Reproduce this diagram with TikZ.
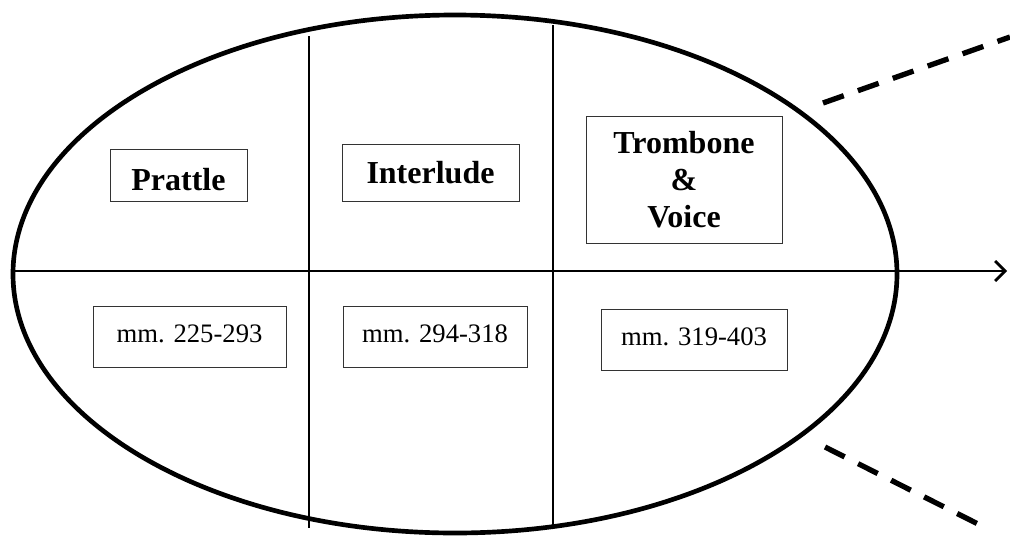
\documentclass[tikz,border=0pt]{standalone}
\usepackage{fontspec}
\setmainfont{Liberation Serif}
\usetikzlibrary{arrows.meta}
\tikzset{section/.style={draw=black!80,line width=0.75pt,rectangle,inner sep=0pt,
		font=\bfseries\fontsize{24}{27.5}\selectfont},
	bars/.style={draw=black!80,line width=0.75pt,rectangle,inner sep=0pt,
		font=\fontsize{20}{24}\selectfont,text height=27pt,text depth=18.75pt},
	divider/.style={line width=1pt},
	beyond/.style={line width=4pt,dash pattern=on 16.5pt off 11.25pt}}

\begin{document}
\begin{tikzpicture}
	[x=0.75pt,y=-0.75pt]
	\useasboundingbox (0,0) rectangle (1010,536);

	\draw [line width=3.5pt] (455,274) ellipse [x radius=442, y radius=259];

	\coordinate (west) at (15,271);
	\coordinate (east) at (1007,271);
	\draw [line width=2pt,-{Straight Barb[length=7.5pt,width=15pt]}] (west) -- (east);

	\coordinate (cutA top) at (309,36);
	\coordinate (cutA bot) at (309,528);
	\coordinate (cutB top) at (553,25);
	\coordinate (cutB bot) at (553,527);
	\draw [divider] (cutA top) -- (cutA bot);
	\draw [divider] (cutB top) -- (cutB bot);

	\node [section,minimum width=137*0.75pt,text height=30.75pt,text depth=8.25pt] (prattle) at (178.5,175) {Prattle};
	\node [section,minimum width=177*0.75pt,text height=29.25pt,text depth=13.5pt] (interlude) at (430.5,172.5) {Interlude};
	\node [section,align=center,minimum width=196*0.75pt,minimum height=127*0.75pt] (trombone) at (684,179.5) {Trombone\\\&\\Voice};

	\node [bars,minimum width=193*0.75pt] (mmA) at (189.5,336.5) {mm. 225-293};
	\node [bars,minimum width=184*0.75pt] (mmB) at (435,337) {mm. 294-318};
	\node [bars,minimum width=186*0.75pt] (mmC) at (694,339.5) {mm. 319-403};

	\coordinate (up from) at (823,103);
	\coordinate (up to) at (1010,37);
	\coordinate (down from) at (825,447);
	\coordinate (down to) at (978,524);
	\draw [beyond] (up from) -- (up to);
	\draw [beyond] (down from) -- (down to);
\end{tikzpicture}
\end{document}
